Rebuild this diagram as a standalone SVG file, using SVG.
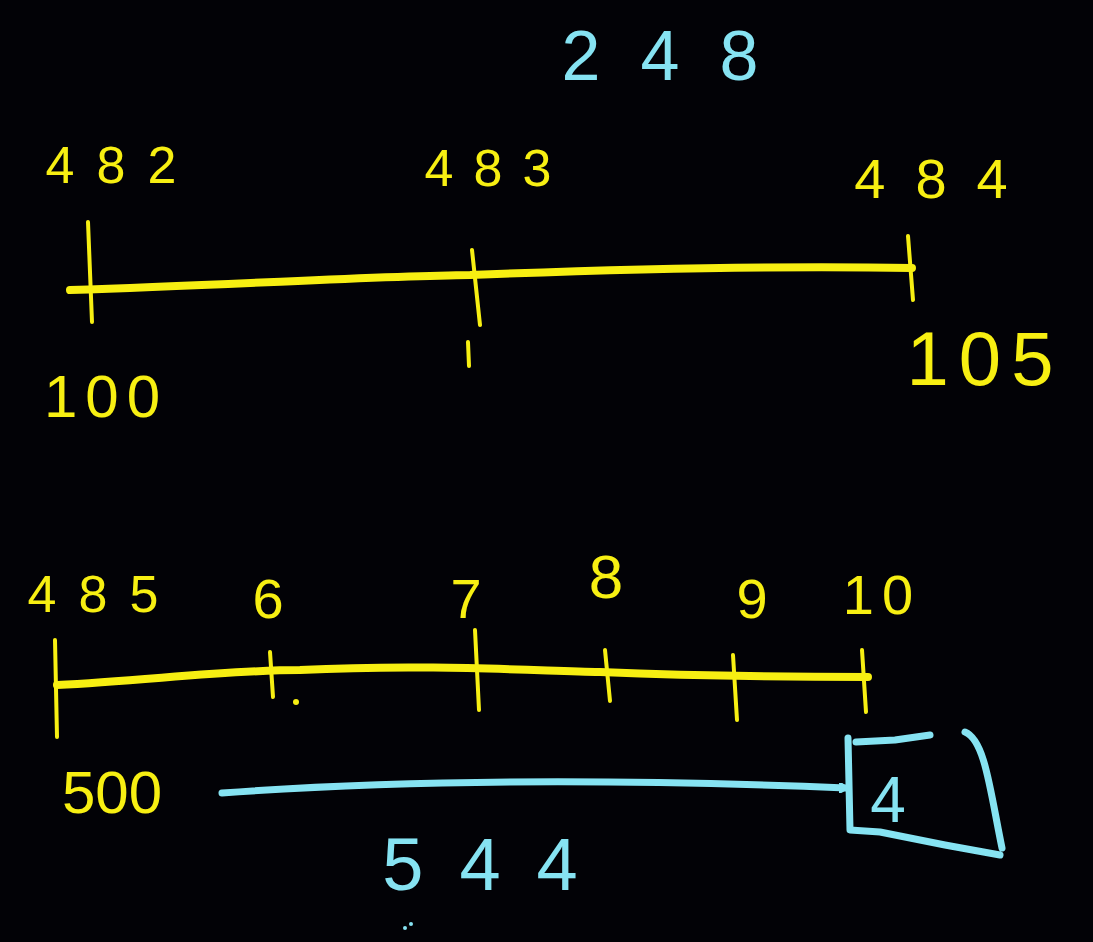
<svg xmlns="http://www.w3.org/2000/svg" width="1093" height="942" viewBox="0 0 1093 942">
<style>
.y{fill:#f7ef12;font-family:"Liberation Sans","DejaVu Sans",sans-serif}
.c{fill:#86e3f2;font-family:"Liberation Sans","DejaVu Sans",sans-serif}
.ln{fill:none;stroke:#f7ef12;stroke-width:8;stroke-linecap:round}
.tk{fill:none;stroke:#f7ef12;stroke-width:4;stroke-linecap:round}
.cl{fill:none;stroke:#86e3f2;stroke-width:7;stroke-linecap:round;stroke-linejoin:round}
</style>
<defs>
<marker id="ah" markerWidth="10" markerHeight="10" refX="7" refY="5" orient="auto" markerUnits="userSpaceOnUse">
<path d="M0,0 L8,5 L0,10" fill="none" stroke="#86e3f2" stroke-width="3"/>
</marker>
</defs>
<rect width="1093" height="942" fill="#020206"/>
<g id="connectors">
<path class="ln" d="M70,290 C250,284 380,276 470,275 C650,268 800,266 912,268"/>
<path class="tk" d="M88,222 L92,322"/>
<path class="tk" d="M472,250 L480,325"/>
<path class="tk" d="M908,236 L913,300"/>
<path class="tk" d="M468,342 L469,366"/>
<path class="ln" d="M57,685 C150,680 230,670 300,670 C420,664 520,670 600,672 C700,676 800,677 868,677"/>
<path class="tk" d="M55,640 L57,737"/>
<path class="tk" d="M270,652 L273,697"/>
<path class="tk" d="M475,630 L479,710"/>
<path class="tk" d="M605,650 L610,701"/>
<path class="tk" d="M733,655 L737,720"/>
<path class="tk" d="M862,650 L866,712"/>
<circle cx="296" cy="702" r="3" fill="#f7ef12"/>
<path class="cl" d="M222,793 C400,780 600,778 846,788" marker-end="url(#ah)"/>
</g>
<g id="top-label"><text class="c" x="680" y="80" font-size="70" letter-spacing="40" text-anchor="middle">248</text></g>
<g id="n482"><text class="y" x="122" y="183" font-size="52" letter-spacing="22" text-anchor="middle">482</text></g>
<g id="n483"><text class="y" x="498" y="186" font-size="52" letter-spacing="20" text-anchor="middle">483</text></g>
<g id="n484"><text class="y" x="946" y="198" font-size="56" letter-spacing="30" text-anchor="middle">484</text></g>
<g id="n100"><text class="y" x="106" y="417" font-size="60" letter-spacing="8" text-anchor="middle">100</text></g>
<g id="n105"><text class="y" x="985" y="385" font-size="76" letter-spacing="10" text-anchor="middle">105</text></g>
<g id="n485"><text class="y" x="104" y="612" font-size="52" letter-spacing="22" text-anchor="middle">485</text></g>
<g id="n6"><text class="y" x="268" y="618" font-size="56" text-anchor="middle">6</text></g>
<g id="n7"><text class="y" x="466" y="618" font-size="56" text-anchor="middle">7</text></g>
<g id="n8"><text class="y" x="606" y="598" font-size="62" text-anchor="middle">8</text></g>
<g id="n9"><text class="y" x="752" y="618" font-size="56" text-anchor="middle">9</text></g>
<g id="n10"><text class="y" x="882" y="614" font-size="56" letter-spacing="8" text-anchor="middle">10</text></g>
<g id="n500"><text class="y" x="112" y="813" font-size="60" text-anchor="middle">500</text></g>
<g id="box4">
<path class="cl" d="M856,742 L895,740 L930,735 M848,738 L850,830 L880,832 L945,845 L1000,855 M965,732 C985,740 990,790 1002,848"/>
<text class="c" x="888" y="822" font-size="64" text-anchor="middle">4</text>
</g>
<g id="n544"><text class="c" x="498" y="890" font-size="74" letter-spacing="36" text-anchor="middle">544</text></g>
<g id="marks"><circle cx="405" cy="928" r="2" fill="#86e3f2"/><circle cx="411" cy="924" r="2" fill="#86e3f2"/></g>
</svg>
